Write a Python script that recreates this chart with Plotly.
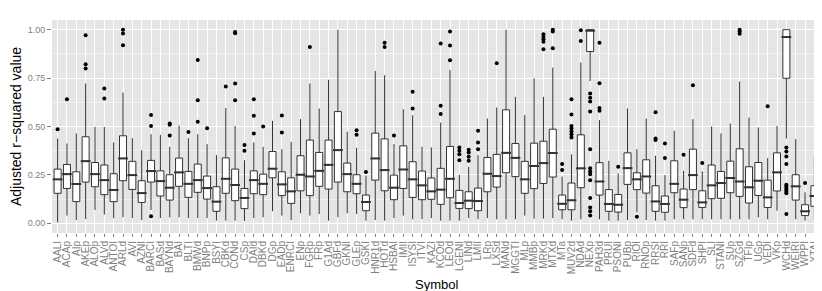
import plotly.graph_objects as go

symbols = ["AALI","ACAp","AIp","AKEp","ALOp","ALVd","ANTOI","ARLd","AVI","AZNI",
           "BARCI","BASd","BAYNd","BAI","BLTI","BMWd","BNPp","BSYI","CBKd","CONd",
           "CSp","DAId","DBKd","DGp","EADp","ENRCI","ENp","FGRp","FRp","G1Ad",
           "GBFd","GKNI","GLEp","GSKI","HNR1d","HOTd","HSBAI","IMII","ISYSI","ITVI",
           "KAZI","KCOd","LEOd","LGENI","LINd","LMII","LRp","LXSd","MANd","MGGTI",
           "MLp","MMBp","MRKd","MTXd","MTa","MUV2d","NDAd","NEXp","PAH3d","PRUI",
           "PSONI","PUBp","RIOI","RNOp","RRSI","RRI","SAFp","SANp","SDFd","SHPI",
           "SLI","STANI","SUp","SZGd","TFIp","UGp","VEDI","VKp","WCHd","WEIRI",
           "WPPI","XTAI"]

q1 = [0.155,0.180,0.112,0.213,0.189,0.148,0.112,0.220,0.175,0.108,
      0.213,0.141,0.120,0.191,0.134,0.160,0.125,0.062,0.155,0.117,
      0.076,0.153,0.148,0.235,0.143,0.103,0.168,0.143,0.191,0.177,
      0.213,0.163,0.153,0.065,0.223,0.168,0.122,0.180,0.134,0.122,
      0.124,0.098,0.132,0.077,0.076,0.065,0.163,0.187,0.261,0.241,
      0.155,0.179,0.206,0.239,0.070,0.070,0.184,0.887,0.146,0.062,
      0.058,0.201,0.174,0.156,0.062,0.057,0.158,0.081,0.174,0.082,
      0.127,0.129,0.158,0.139,0.105,0.144,0.082,0.167,0.749,0.120,
      0.040,0.088]

median = [0.227,0.254,0.203,0.321,0.254,0.223,0.172,0.335,0.249,0.156,
          0.270,0.218,0.184,0.263,0.204,0.223,0.182,0.112,0.230,0.198,
          0.131,0.223,0.204,0.282,0.201,0.165,0.251,0.242,0.271,0.302,
          0.378,0.254,0.204,0.110,0.335,0.275,0.184,0.278,0.227,0.196,
          0.165,0.174,0.230,0.105,0.117,0.115,0.256,0.244,0.364,0.338,
          0.227,0.296,0.311,0.363,0.101,0.119,0.284,0.995,0.216,0.100,
          0.096,0.285,0.227,0.242,0.113,0.100,0.204,0.122,0.249,0.108,
          0.196,0.208,0.234,0.216,0.186,0.220,0.134,0.263,0.962,0.191,
          0.062,0.141]

q3 = [0.280,0.304,0.266,0.447,0.314,0.301,0.256,0.452,0.320,0.220,
      0.325,0.271,0.251,0.337,0.268,0.306,0.244,0.189,0.338,0.280,
      0.180,0.271,0.254,0.371,0.266,0.235,0.349,0.430,0.366,0.430,
      0.577,0.311,0.251,0.146,0.466,0.436,0.249,0.400,0.318,0.270,
      0.234,0.284,0.397,0.170,0.163,0.182,0.340,0.356,0.586,0.412,
      0.320,0.414,0.424,0.486,0.146,0.208,0.457,1.000,0.313,0.174,
      0.149,0.364,0.261,0.328,0.194,0.141,0.323,0.177,0.383,0.168,
      0.301,0.268,0.321,0.385,0.292,0.314,0.223,0.364,1.000,0.251,
      0.096,0.194]

lower = [0.005,0.040,0.017,0.022,0.069,0.045,0.026,0.031,0.027,0.017,
         0.069,0.027,0.031,0.031,0.027,0.027,0.027,0.014,0.014,0.014,
         0.012,0.027,0.031,0.062,0.040,0.017,0.052,0.040,0.048,0.014,
         0.031,0.052,0.048,0.014,0.017,0.014,0.027,0.040,0.021,0.022,
         0.027,0.014,0.014,0.014,0.027,0.021,0.027,0.021,0.021,0.021,
         0.040,0.024,0.024,0.027,0.021,0.014,0.021,0.735,0.021,0.014,
         0.014,0.017,0.057,0.017,0.014,0.014,0.021,0.021,0.021,0.021,
         0.021,0.021,0.021,0.021,0.021,0.031,0.021,0.065,0.438,0.021,
         0.014,0.021]

upper = [0.438,0.412,0.464,0.722,0.498,0.498,0.418,0.675,0.440,0.378,
         0.460,0.457,0.395,0.505,0.440,0.460,0.409,0.352,0.595,0.503,
         0.326,0.418,0.395,0.529,0.383,0.421,0.538,0.722,0.593,0.741,
         1.000,0.473,0.390,0.246,0.787,0.765,0.409,0.589,0.558,0.395,
         0.392,0.520,0.792,0.251,0.292,0.352,0.541,0.598,1.000,0.653,
         0.560,0.749,0.653,0.804,0.241,0.356,0.830,1.000,0.533,0.323,
         0.258,0.593,0.383,0.541,0.349,0.249,0.478,0.271,0.538,0.268,
         0.500,0.464,0.515,0.732,0.546,0.495,0.337,0.503,1.000,0.435,
         0.160,0.349]

outliers = {
    "AALI": [0.486], "ACAp": [0.641], "AKEp": [0.971,0.821,0.799],
    "ALVd": [0.696,0.644], "ARLd": [1.0,0.98,0.919], "BARCI": [0.560,0.502,0.036],
    "BAYNd": [0.515,0.509,0.454], "BLTI": [0.471], "BMWd": [0.844,0.636,0.524],
    "BNPp": [0.491], "CBKd": [0.706], "CONd": [0.988,0.981,0.722,0.636],
    "CSp": [0.404,0.375], "DAId": [0.641,0.555,0.464], "DBKd": [0.500],
    "EADp": [0.557,0.469], "FGRp": [0.911], "GLEp": [0.481,0.457], "GSKI": [0.265],
    "HOTd": [0.933,0.911], "HSBAI": [0.454], "ISYSI": [0.680,0.593],
    "KCOd": [0.928,0.607,0.564], "LEOd": [0.990,0.918,0.842],
    "LGENI": [0.392,0.375,0.357,0.326], "LINd": [0.380,0.366,0.344,0.323],
    "LMII": [0.478,0.418,0.383], "LXSd": [0.826],
    "MRKd": [0.976,0.962,0.950,0.938,0.899], "MTXd": [1.0,0.990,0.904],
    "MTa": [0.306,0.275], "MUV2d": [0.641,0.562,0.502,0.490,0.474,0.460,0.443],
    "NDAd": [0.997,0.942],
    "NEXp": [0.670,0.649,0.629,0.577,0.383,0.284,0.268,0.254,0.222,0.131,0.082,0.062,0.041],
    "PAH3d": [0.933,0.723,0.595,0.581], "PSONI": [0.292], "RIOI": [0.034],
    "RRSI": [0.574,0.438,0.430], "RRI": [0.412,0.337], "SANp": [0.354],
    "SDFd": [0.713], "SHPI": [0.311], "SZGd": [1.0,0.990,0.979], "VEDI": [0.605],
    "WCHd": [0.392,0.371,0.345,0.306,0.199,0.191,0.180,0.172,0.163,0.155,0.048],
    "WPPI": [0.208],
}

y_ticks = [0.0, 0.25, 0.5, 0.75, 1.0]
y_ticklabels = ["0.00", "0.25", "0.50", "0.75", "1.00"]
x_title = "Symbol"
y_title = "Adjusted r\u2212squared value"

FONT = "Liberation Sans, Arial, sans-serif"

fig = go.Figure()
fig.add_trace(go.Box(
    x=symbols, q1=q1, median=median, q3=q3,
    lowerfence=lower, upperfence=upper,
    orientation="v", boxpoints=False, width=0.75, whiskerwidth=0,
    fillcolor="white", line=dict(color="#333333", width=1),
    showlegend=False, hoverinfo="skip",
))
# thicker median bars (ggplot style)
fig.add_trace(go.Scatter(
    x=symbols, y=median, mode="markers",
    marker=dict(symbol="line-ew", size=7, line=dict(color="#333333", width=2)),
    showlegend=False, hoverinfo="skip",
))
ox, oy = [], []
for s in symbols:
    for v in outliers.get(s, []):
        ox.append(s)
        oy.append(v)
fig.add_trace(go.Scatter(
    x=ox, y=oy, mode="markers",
    marker=dict(color="black", size=4),
    showlegend=False, hoverinfo="skip",
))

fig.update_layout(
    width=822, height=291,
    margin=dict(l=44, r=10, t=12, b=66),
    paper_bgcolor="white", plot_bgcolor="#E5E5E5",
    font=dict(family=FONT, color="#7F7F7F"),
    xaxis=dict(
        type="category", categoryorder="array", categoryarray=symbols,
        tickmode="array", tickvals=symbols, ticktext=symbols,
        range=[-0.6, len(symbols) - 0.4],
        showgrid=True, gridcolor="white", gridwidth=1,
        ticks="outside", ticklen=3, tickcolor="#7F7F7F", tickwidth=1,
        tickangle=-90, tickfont=dict(size=10, color="#7F7F7F"),
        zeroline=False, showline=False, automargin=False,
    ),
    yaxis=dict(
        range=[-0.05, 1.05], tickvals=y_ticks, ticktext=y_ticklabels,
        showgrid=True, gridcolor="white", gridwidth=1,
        minor=dict(dtick=0.125, tick0=0.125, showgrid=True, gridcolor="#F2F2F2", gridwidth=0.6),
        ticks="outside", ticklen=4, tickcolor="#7F7F7F", tickwidth=1,
        tickfont=dict(size=9, color="#7F7F7F"),
        zeroline=False, showline=False, automargin=False,
        title=dict(text=y_title, font=dict(size=14, color="black"), standoff=6),
    ),
    annotations=[dict(
        text=x_title, xref="paper", yref="paper", x=0.5, y=-0.244,
        xanchor="center", yanchor="middle", showarrow=False,
        font=dict(size=13, color="black"),
    )],
)

fig.write_html("out.html")
